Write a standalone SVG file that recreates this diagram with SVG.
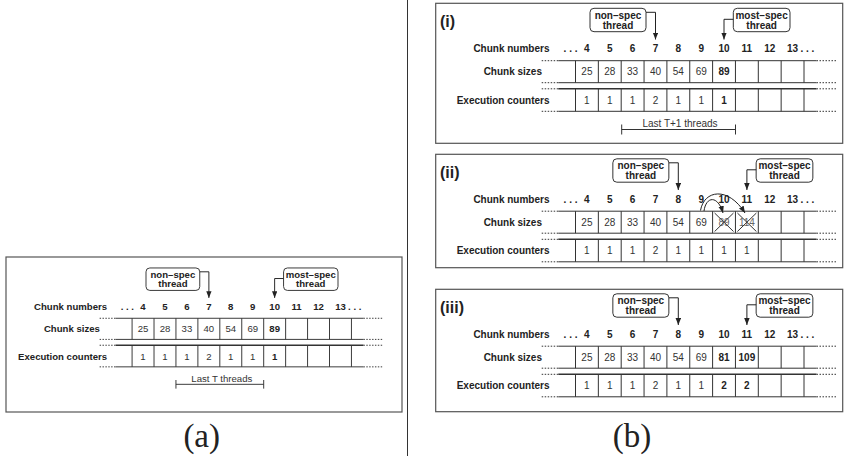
<svg xmlns="http://www.w3.org/2000/svg" xmlns:xlink="http://www.w3.org/1999/xlink" width="846" height="456" viewBox="0 0 846 456">
<style>
.b{font-family:"Liberation Sans",Arial,sans-serif;font-weight:bold;font-size:10px;fill:#222}
.e{text-anchor:end}
.m{text-anchor:middle}
.v{font-family:"Liberation Sans",Arial,sans-serif;font-size:10px;fill:#333;text-anchor:middle}
.vb{font-weight:bold;fill:#222}
.x{fill:#666}
.ln{stroke:#333;stroke-width:1;fill:none}
.dt{stroke:#333;stroke-width:1;stroke-dasharray:1.5 1.5;fill:none}
.panel{fill:none;stroke:#555;stroke-width:1.2}
.box{fill:#fff;stroke:#333;stroke-width:1}
.con{fill:none;stroke:#222;stroke-width:1}
.pl{font-family:"Liberation Sans",Arial,sans-serif;font-weight:bold;font-size:16px;fill:#222}
.cap{font-family:"Liberation Serif","Times New Roman",serif;font-size:33px;fill:#222;text-anchor:middle}
.br{font-family:"Liberation Sans",Arial,sans-serif;font-size:10px;fill:#333;text-anchor:middle}
</style>
<defs>
<marker id="ah" markerUnits="userSpaceOnUse" markerWidth="8" markerHeight="6" refX="7" refY="2.75" orient="auto">
<path d="M0,0 L7,2.75 L0,5.5 z" fill="#222"/>
</marker>
<g id="grid">
<text class="b e" x="549.5" y="52">Chunk numbers</text>
<text class="b e" x="542" y="75.3">Chunk sizes</text>
<text class="b e" x="549.5" y="103.8">Execution counters</text>
<text class="b e" x="577.5" y="52">. . .</text>
<text class="b m" x="586.9" y="52">4</text>
<text class="b m" x="609.8" y="52">5</text>
<text class="b m" x="632.6" y="52">6</text>
<text class="b m" x="655.5" y="52">7</text>
<text class="b m" x="678.3" y="52">8</text>
<text class="b m" x="701.2" y="52">9</text>
<text class="b m" x="724" y="52">10</text>
<text class="b m" x="746.9" y="52">11</text>
<text class="b m" x="769.7" y="52">12</text>
<text class="b m" x="792.6" y="52">13</text>
<text class="b" x="800.5" y="52">. . .</text>
<path class="ln" d="M558.3,60.7H816.5M558.3,82.7H816.5M558.3,111.3H816.5"/>
<path class="ln" d="M558.3,88.8H816.5" style="stroke-width:1.4"/>
<path class="dt" d="M541.7,60.7H558.3M541.7,82.7H558.3M541.7,88.8H558.3M541.7,111.3H558.3M816.5,60.7H837M816.5,82.7H837M816.5,88.8H837M816.5,111.3H837"/>
<path class="ln" d="M575.5,60.7V82.7M598.35,60.7V82.7M621.2,60.7V82.7M644.05,60.7V82.7M666.9,60.7V82.7M689.75,60.7V82.7M712.6,60.7V82.7M735.45,60.7V82.7M758.3,60.7V82.7M781.15,60.7V82.7M804,60.7V82.7M575.5,88.8V111.3M598.35,88.8V111.3M621.2,88.8V111.3M644.05,88.8V111.3M666.9,88.8V111.3M689.75,88.8V111.3M712.6,88.8V111.3M735.45,88.8V111.3M758.3,88.8V111.3M781.15,88.8V111.3M804,88.8V111.3"/>
</g>
<g id="basevals">
<text class="v" x="586.9" y="75.3">25</text>
<text class="v" x="609.8" y="75.3">28</text>
<text class="v" x="632.6" y="75.3">33</text>
<text class="v" x="655.5" y="75.3">40</text>
<text class="v" x="678.3" y="75.3">54</text>
<text class="v" x="701.2" y="75.3">69</text>
<text class="v" x="586.9" y="103.8">1</text>
<text class="v" x="609.8" y="103.8">1</text>
<text class="v" x="632.6" y="103.8">1</text>
<text class="v" x="655.5" y="103.8">2</text>
<text class="v" x="678.3" y="103.8">1</text>
<text class="v" x="701.2" y="103.8">1</text>
</g>
</defs>

<line x1="407.5" y1="0" x2="407.5" y2="456" stroke="#333" stroke-width="1"/>

<!-- panel (a) -->
<g id="panel-a">
<rect class="panel" x="6" y="257" width="396" height="155"/>
<g transform="matrix(0.96 0 0 0.96 -420.4 260)">
<use xlink:href="#grid"/>
<use xlink:href="#basevals"/>
<text class="v vb" x="724" y="75.3">89</text>
<text class="v vb" x="724" y="103.8">1</text>
<g id="a-nonspec"><rect class="box" x="590" y="8.3" width="56" height="23.4" rx="4"/><text class="b m" x="618" y="18.8">non–spec</text><text class="b m" x="618" y="28.6">thread</text></g>
<g id="a-mostspec"><rect class="box" x="733.3" y="8.3" width="56.7" height="23.4" rx="4"/><text class="b m" x="761.6" y="18.8">most–spec</text><text class="b m" x="761.6" y="28.6">thread</text></g>
<g id="a-bracket"><path class="ln" d="M621.2,129.5H712.6M621.2,125V134M712.6,125V134"/><text class="br" x="669" y="126.8">Last T threads</text></g>
<g id="a-connectors">
<path class="con" d="M646,12.3H655.5V39.5" marker-end="url(#ah)"/>
<path class="con" d="M733.3,19.3H724V39.5" marker-end="url(#ah)"/>
</g>
</g>
<text class="cap" x="201.7" y="447">(a)</text>
</g>

<!-- panel (b)(i) -->
<g id="panel-b-i">
<rect class="panel" x="435.7" y="3.3" width="407" height="140"/>
<text class="pl" x="440" y="27">(i)</text>
<use xlink:href="#grid"/>
<use xlink:href="#basevals"/>
<text class="v vb" x="724" y="75.3">89</text>
<text class="v vb" x="724" y="103.8">1</text>
<g id="i-nonspec"><rect class="box" x="590" y="8.3" width="56" height="23.4" rx="4"/><text class="b m" x="618" y="18.8">non–spec</text><text class="b m" x="618" y="28.6">thread</text></g>
<g id="i-mostspec"><rect class="box" x="733.3" y="8.3" width="56.7" height="23.4" rx="4"/><text class="b m" x="761.6" y="18.8">most–spec</text><text class="b m" x="761.6" y="28.6">thread</text></g>
<g id="i-bracket"><path class="ln" d="M621.7,129.5H735.5M621.7,124.5V134.5M735.5,124.5V134.5"/><text class="br" x="680" y="126.8">Last T+1 threads</text></g>
<g id="i-connectors">
<path class="con" d="M646,12.3H655.5V39.5" marker-end="url(#ah)"/>
<path class="con" d="M733.3,19.3H724V39.5" marker-end="url(#ah)"/>
</g>
</g>

<!-- panel (b)(ii) -->
<g id="panel-b-ii">
<rect class="panel" x="435.7" y="154.3" width="407" height="113.4"/>
<g transform="translate(0 150.5)">
<text class="pl" x="440" y="27">(ii)</text>
<use xlink:href="#grid"/>
<use xlink:href="#basevals"/>
<text class="v x" x="724" y="75.3">89</text>
<text class="v x" x="746.9" y="75.3">114</text>
<text class="v" x="724" y="103.8">1</text>
<text class="v" x="746.9" y="103.8">1</text>
<path class="ln" d="M714.6,62.5L733.5,81M733.5,62.5L714.6,81M737.4,62.5L756.4,81M756.4,62.5L737.4,81"/>
<g id="ii-nonspec"><rect class="box" x="612.85" y="8.3" width="56" height="23.4" rx="4"/><text class="b m" x="640.85" y="18.8">non–spec</text><text class="b m" x="640.85" y="28.6">thread</text></g>
<g id="ii-mostspec"><rect class="box" x="756.15" y="8.3" width="56.7" height="23.4" rx="4"/><text class="b m" x="784.5" y="18.8">most–spec</text><text class="b m" x="784.5" y="28.6">thread</text></g>
<g id="ii-connectors">
<path class="con" d="M668.85,12.3H678.3V39.5" marker-end="url(#ah)"/>
<path class="con" d="M756.15,19.3H746.9V39.5" marker-end="url(#ah)"/>
<path class="con" d="M704,60.5C706,45.5 718,44.5 723,62.5" marker-end="url(#ah)"/>
<path class="con" d="M700.5,60C704,39.5 728,35.5 745,62.5" marker-end="url(#ah)"/>
</g>
</g>
</g>

<!-- panel (b)(iii) -->
<g id="panel-b-iii">
<rect class="panel" x="435.7" y="289.3" width="407" height="122.4"/>
<g transform="translate(0 285.5)">
<text class="pl" x="440" y="27">(iii)</text>
<use xlink:href="#grid"/>
<use xlink:href="#basevals"/>
<text class="v vb" x="724" y="75.3">81</text>
<text class="v vb" x="746.9" y="75.3">109</text>
<text class="v vb" x="724" y="103.8">2</text>
<text class="v vb" x="746.9" y="103.8">2</text>
<g id="iii-nonspec"><rect class="box" x="612.85" y="8.3" width="56" height="23.4" rx="4"/><text class="b m" x="640.85" y="18.8">non–spec</text><text class="b m" x="640.85" y="28.6">thread</text></g>
<g id="iii-mostspec"><rect class="box" x="756.15" y="8.3" width="56.7" height="23.4" rx="4"/><text class="b m" x="784.5" y="18.8">most–spec</text><text class="b m" x="784.5" y="28.6">thread</text></g>
<g id="iii-connectors">
<path class="con" d="M668.85,12.3H678.3V39.5" marker-end="url(#ah)"/>
<path class="con" d="M756.15,19.3H746.9V39.5" marker-end="url(#ah)"/>
</g>
</g>
<text class="cap" x="632" y="447">(b)</text>
</g>
</svg>
